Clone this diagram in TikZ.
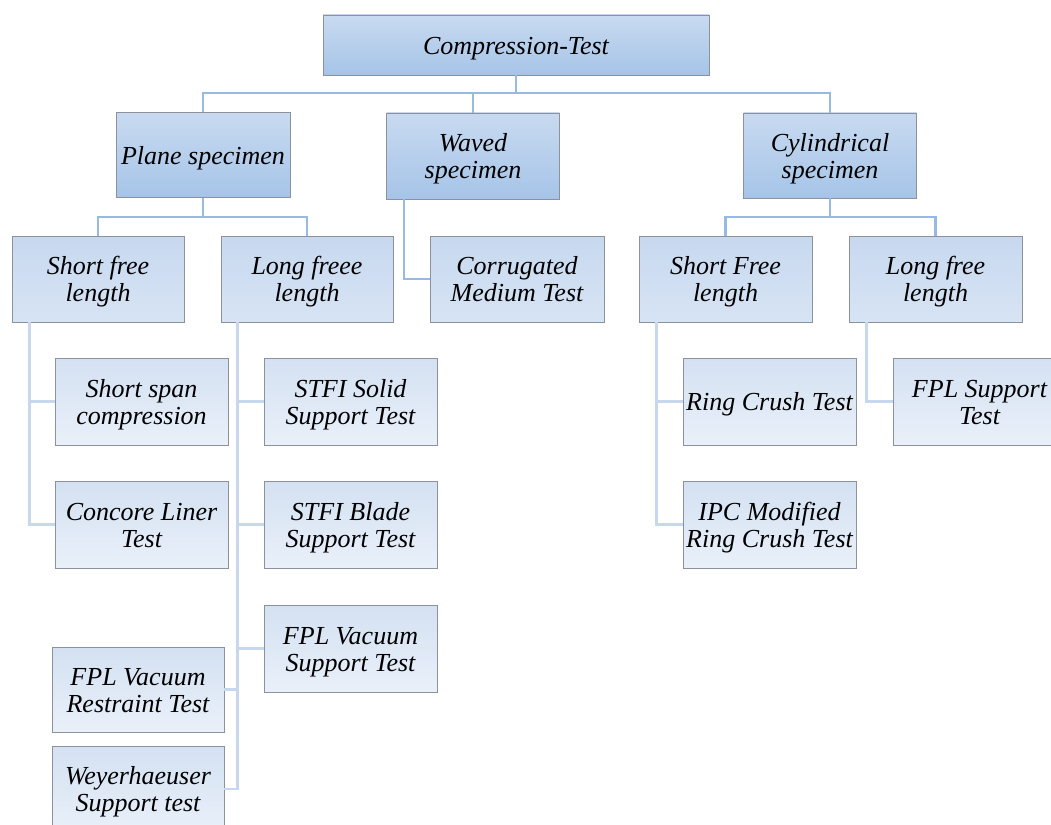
\documentclass[tikz,border=0pt]{standalone}
\usepackage{fontspec}
\setmainfont{Liberation Serif}
\definecolor{lineA}{RGB}{150,186,228}
\definecolor{lineB}{RGB}{198,215,238}
\definecolor{boxEdge}{RGB}{140,145,155}
\definecolor{topA}{RGB}{200,218,240}
\definecolor{topB}{RGB}{166,196,232}
\definecolor{midA}{RGB}{199,216,239}
\definecolor{midB}{RGB}{215,228,244}
\definecolor{leafA}{RGB}{212,225,242}
\definecolor{leafB}{RGB}{233,240,249}
\newcommand{\boxtxt}[1]{\raisebox{0pt}[\dimexpr\height+7.5pt\relax][\depth]{\begin{tabular}{@{}c@{}}#1\end{tabular}}}
\tikzset{
  basebox/.style={draw=boxEdge, line width=0.9pt, inner sep=0pt,
    font=\fontsize{26}{27}\selectfont\itshape, minimum width=173pt, minimum height=86pt},
  topbox/.style={basebox, top color=topA, bottom color=topB},
  midbox/.style={basebox, top color=midA, bottom color=midB},
  leafbox/.style={basebox, top color=leafA, bottom color=leafB},
  connA/.style={draw=lineA, line width=2.8pt},
  connB/.style={draw=lineB, line width=2.8pt},
}
\begin{document}
\begin{tikzpicture}[x=1pt,y=-1pt]
\useasboundingbox (0,0) rectangle (1051,824);
\clip (0,0) rectangle (1051,824);
% level 1
\node[topbox, minimum width=386pt, minimum height=60pt] (top) at (516,45) {\boxtxt{Compression-Test}};
% level 2
\node[topbox, minimum width=174pt, minimum height=85pt] (plane) at (203,155) {\boxtxt{Plane specimen}};
\node[topbox] (waved) at (473,156) {\boxtxt{Waved\\specimen}};
\node[topbox, minimum height=85pt] (cyl) at (830,155.5) {\boxtxt{Cylindrical\\specimen}};
% level 3
\node[midbox, minimum width=172pt] (sfl) at (98,279) {\boxtxt{Short free\\length}};
\node[midbox, minimum width=172pt] (lfl) at (307,279) {\boxtxt{Long freee\\length}};
\node[midbox, minimum width=174pt] (corr) at (517,279) {\boxtxt{Corrugated\\Medium Test}};
\node[midbox] (csfl) at (725.5,279) {\boxtxt{Short Free\\length}};
\node[midbox] (clfl) at (935.5,279) {\boxtxt{Long free\\length}};
% leaves
\node[leafbox, minimum height=87pt] (ssc) at (141.5,401.5) {\boxtxt{Short span\\compression}};
\node[leafbox, minimum height=87pt] (ccl) at (141.5,524.5) {\boxtxt{Concore Liner\\Test}};
\node[leafbox, minimum height=87pt] (stfis) at (350.5,401.5) {\boxtxt{STFI Solid\\Support Test}};
\node[leafbox, minimum height=87pt] (stfib) at (350.5,524.5) {\boxtxt{STFI Blade\\Support Test}};
\node[leafbox, minimum height=87pt] (fplvs) at (350.5,648.5) {\boxtxt{FPL Vacuum\\Support Test}};
\node[leafbox, minimum width=172pt, minimum height=85pt] (fplvr) at (138,689.5) {\boxtxt{FPL Vacuum\\Restraint Test}};
\node[leafbox, minimum width=172pt, minimum height=86pt] (wey) at (138,789) {\boxtxt{Weyerhaeuser\\Support test}};
\node[leafbox, minimum height=87pt] (ring) at (769.5,401.5) {\boxtxt{Ring Crush Test}};
\node[leafbox, minimum height=87pt] (ipc) at (769.5,524.5) {\boxtxt{IPC Modified\\Ring Crush Test}};
\node[leafbox, minimum height=87pt] (fpls) at (979.5,401.5) {\boxtxt{FPL Support\\Test}};
% bus coordinates
\coordinate (busA) at (0,93);
\coordinate (busB) at (0,217);
% connectors level 1 -> 2
\draw[connA] (top.south) -- (top.south |- busA);
\draw[connA] (plane.north) -- (plane.north |- busA) -- (cyl.north |- busA) -- (cyl.north);
\draw[connA] (waved.north) -- (waved.north |- busA);
% plane -> sfl, lfl
\draw[connA] (plane.south) -- (plane.south |- busB);
\draw[connA] (sfl.north) -- (sfl.north |- busB) -- (lfl.north |- busB) -- (lfl.north);
% cyl -> csfl, clfl
\draw[connA] (cyl.south) -- (cyl.south |- busB);
\draw[connA] (csfl.north) -- (csfl.north |- busB) -- (clfl.north |- busB) -- (clfl.north);
% waved -> corrugated
\coordinate (wv) at ([xshift=18pt]waved.south west);
\draw[connA] (wv) |- (corr.west);
% short free length leaves
\coordinate (s1) at ([xshift=18pt]sfl.south west);
\draw[connB] (s1) |- (ssc.west);
\draw[connB] (s1) |- (ccl.west);
% long freee length leaves
\coordinate (l1) at ([xshift=17pt]lfl.south west);
\draw[connB] (l1) |- (stfis.west);
\draw[connB] (l1) |- (stfib.west);
\draw[connB] (l1) |- (fplvs.west);
\draw[connB] (l1) |- (fplvr.east);
\draw[connB] (l1) |- (wey.east);
% cylindrical short leaves
\coordinate (c1) at ([xshift=18pt]csfl.south west);
\draw[connB] (c1) |- (ring.west);
\draw[connB] (c1) |- (ipc.west);
% cylindrical long leaf
\coordinate (c2) at ([xshift=18pt]clfl.south west);
\draw[connB] (c2) |- (fpls.west);
\end{tikzpicture}
\end{document}
